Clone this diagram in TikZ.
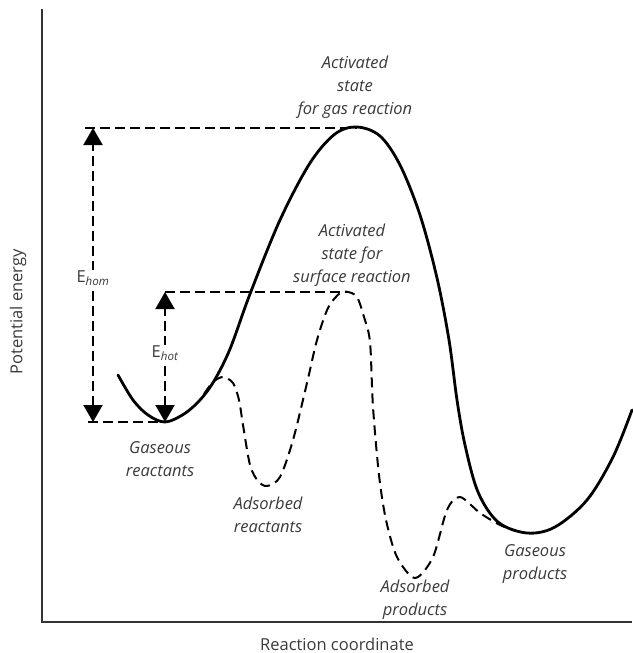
\documentclass[tikz,border=0pt]{standalone}
\usepackage{fontspec}
\setmainfont{Open Sans}
\usetikzlibrary{arrows.meta}
\definecolor{txtgrey}{HTML}{3A3A3A}
\newcommand{\lw}{2.8pt}
\newcommand{\tip}{Triangle[width=19pt,length=17pt]}

\begin{document}
\begin{tikzpicture}[x=1pt,y=-1pt,
    curve/.style={line width=\lw, line join=round, line cap=round},
    surface/.style={line width=2pt, dash pattern=on 10pt off 6pt},
    guide/.style={line width=2pt, dash pattern=on 10pt off 5pt},
    energy/.style={guide, {\tip}-{\tip}},
    axis/.style={line width=1.4pt, draw=black!80},
    lbl/.style={font=\fontsize{16.5}{23}\selectfont\itshape, text=txtgrey, align=center, inner sep=1pt},
    ename/.style={font=\fontsize{16.5}{19}\selectfont, text=txtgrey, fill=white, inner sep=1pt},
    axlbl/.style={font=\fontsize{16.5}{19}\selectfont, text=txtgrey}]
    \useasboundingbox (0,0) rectangle (632,653);

    % Levels
    \coordinate (gas-min) at (165,422);
    \coordinate (gas-peak) at (357,128);
    \coordinate (surf-peak) at (348,292);
    \coordinate (hom-top) at (93,128);
    \coordinate (hom-bot) at (93,422);
    \coordinate (hot-top) at (165,292);

    % Axes
    \coordinate (y-end) at (42,9);
    \coordinate (origin) at (42,622);
    \coordinate (x-end) at (632,622);
    \draw[axis] (y-end) -- (origin) -- (x-end);
    \node[axlbl] (x-name) at (337,644) {Reaction coordinate};
    \node[axlbl, rotate=90] (y-name) at (18,312) {Potential energy};

    % Gas reaction
    \draw[curve] plot[smooth, tension=0.55] coordinates {(118,375) (133,400) (148,415) (165,422) (184,414) (200,400) (214,381) (230,349) (250,294) (280,220) (310,163) (335,134) (357,127) (380,136) (400,165) (420,215) (437,278) (449,340) (457,400) (465,445) (478,492) (498,522) (527,533) (555,527) (587,500) (613,457) (632,410)};

    % Surface reaction
    \draw[surface] plot[smooth, tension=0.5] coordinates {(204,394) (213,382) (223,377) (233,383) (239,400) (243,425) (250,465) (258,481) (267,486) (280,477) (293,440) (307,383) (317,340) (328,308) (340,293) (348,292) (357,297) (364,317) (370,342) (373,407) (379,475) (386,520) (397,557) (415,578) (433,557) (447,510) (460,497) (480,513) (500,525) (516,531)};

    % Guide lines and activation energies
    \draw[guide] ([xshift=-8pt]hom-top) -- (gas-peak);
    \draw[guide] ([xshift=-5pt]hom-bot) -- (gas-min);
    \draw[guide] (hot-top) -- (surf-peak);
    \draw[energy] (hom-bot) -- (hom-top) node[ename, pos=0.49] (e-hom) {E\textsubscript{\itshape hom}};
    \draw[energy] (gas-min) -- (hot-top) node[ename, pos=0.53] (e-hot) {E\textsubscript{\itshape hot}};

    % State labels
    \node[lbl] (gas-act) at (355,87) {Activated\\state\\for gas reaction};
    \node[lbl] (surf-act) at (352,255) {Activated\\state for\\surface reaction};
    \node[lbl] (gas-react) at (160,459) {Gaseous\\reactants};
    \node[lbl] (ads-react) at (268,515) {Adsorbed\\reactants};
    \node[lbl] (ads-prod) at (415,600) {Adsorbed\\products};
    \node[lbl] (gas-prod) at (535,564) {Gaseous\\products};
\end{tikzpicture}
\end{document}
